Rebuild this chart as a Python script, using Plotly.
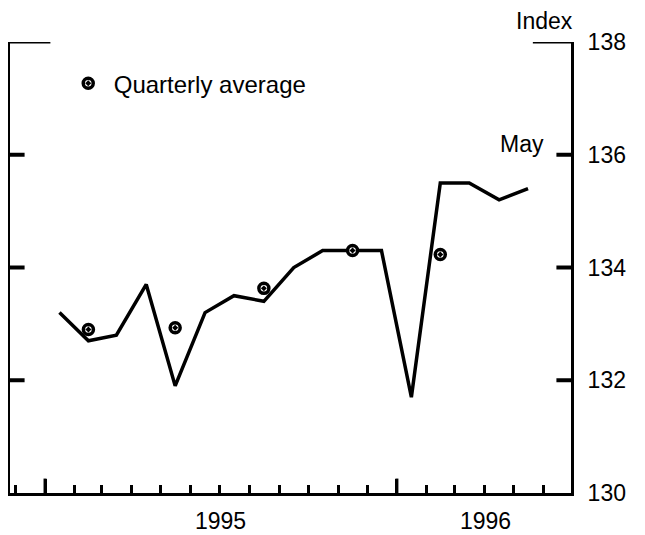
import plotly.graph_objects as go

# Monthly index values (Jan 1995 - May 1996)
months = ["1995-01-16", "1995-02-15", "1995-03-16", "1995-04-16", "1995-05-16",
          "1995-06-16", "1995-07-16", "1995-08-16", "1995-09-16", "1995-10-16",
          "1995-11-16", "1995-12-16", "1996-01-16", "1996-02-15", "1996-03-16",
          "1996-04-16", "1996-05-16"]
index_values = [133.2, 132.7, 132.8, 133.7, 131.9, 133.2, 133.5, 133.4, 134.0,
                134.3, 134.3, 134.3, 131.7, 135.5, 135.5, 135.2, 135.4]

# Quarterly averages plotted at middle month of each quarter
quarter_dates = ["1995-02-15", "1995-05-16", "1995-08-16", "1995-11-16", "1996-02-15"]
quarter_values = [132.9, 132.93, 133.63, 134.3, 134.23]

year_labels = ["1995", "1996"]
year_label_pos = ["1995-07-02", "1996-04-02"]
year_ticks = ["1995-01-01", "1996-01-01"]
y_ticks = [132, 134, 136]

x_range = ["1994-11-25 16:00", "1996-06-29 14:00"]
y_range = [130, 138]

FONT = "Liberation Sans, Arial, Helvetica, sans-serif"

fig = go.Figure()

fig.add_trace(go.Scatter(
    x=months, y=index_values, mode="lines",
    line=dict(color="black", width=3.5),
    showlegend=False, hoverinfo="skip"))

fig.add_trace(go.Scatter(
    x=quarter_dates, y=quarter_values, mode="markers",
    name="Quarterly average",
    marker=dict(symbol="circle-dot", size=10, color="white",
                line=dict(color="black", width=3.5)),
    showlegend=True))

annotations = [
    dict(text="Index", xref="paper", yref="paper", x=1.0, y=1.0,
         xanchor="center", yanchor="bottom", yshift=6, xshift=-27,
         showarrow=False, font=dict(family=FONT, size=23, color="black")),
    dict(text="May", xref="x", yref="y", x="1996-05-16", y=135.92,
         xanchor="center", yanchor="bottom", xshift=-6,
         showarrow=False, font=dict(family=FONT, size=23, color="black")),
]
for lab, pos in zip(year_labels, year_label_pos):
    annotations.append(dict(text=lab, xref="x", yref="paper", x=pos, y=0,
                            xanchor="center", yanchor="top", yshift=-13,
                            showarrow=False,
                            font=dict(family=FONT, size=23, color="black")))

# tick marks (inward) drawn as axis-anchored decorations
TICK = dict(color="black", width=4)
shapes = []
for v in y_ticks:
    shapes.append(dict(type="line", xref="paper", yref="y", x0=0, x1=0.026,
                       y0=v, y1=v, line=TICK, layer="above"))
    shapes.append(dict(type="line", xref="paper", yref="y", x0=0.974, x1=1,
                       y0=v, y1=v, line=TICK, layer="above"))
# long ticks at the top value (138)
shapes.append(dict(type="line", xref="paper", yref="y", x0=0, x1=0.072,
                   y0=y_range[1], y1=y_range[1], line=dict(color="black", width=3),
                   layer="above"))
shapes.append(dict(type="line", xref="paper", yref="y", x0=0.932, x1=1,
                   y0=y_range[1], y1=y_range[1], line=dict(color="black", width=3),
                   layer="above"))
# taller ticks at year boundaries
for d in year_ticks:
    shapes.append(dict(type="line", xref="x", yref="paper", x0=d, x1=d,
                       y0=0, y1=0.032, line=dict(color="black", width=3),
                       layer="above"))

# page body adds an 8px offset, so the figure is sized/placed to compensate
fig.update_layout(
    width=637, height=527, autosize=False,
    margin=dict(l=2, r=74, t=34, b=42, autoexpand=False),
    paper_bgcolor="white", plot_bgcolor="white",
    font=dict(family=FONT, size=23, color="black"),
    xaxis=dict(
        type="date", range=x_range, automargin=False,
        showgrid=False, zeroline=False,
        showline=True, linecolor="black", linewidth=3,
        tickmode="linear", tick0="1995-01-01", dtick="M12",
        ticks="inside", ticklen=14, tickwidth=3,
        tickcolor="black", showticklabels=False,
        minor=dict(dtick="M1", tick0="1995-01-01", ticks="inside",
                   ticklen=8, tickwidth=3, tickcolor="black", showgrid=False),
    ),
    yaxis=dict(
        range=y_range, side="right", automargin=False,
        showgrid=False, zeroline=False,
        showline=True, linecolor="black", linewidth=3, mirror=True,
        tickmode="linear", tick0=130, dtick=2,
        ticks="", ticklabelstandoff=9,
        tickfont=dict(family=FONT, size=23, color="black"),
    ),
    legend=dict(
        x=0.094, y=0.9075, xanchor="left", yanchor="middle",
        bgcolor="rgba(0,0,0,0)", borderwidth=0, itemwidth=41,
        font=dict(family=FONT, size=24, color="black"),
    ),
    shapes=shapes,
    annotations=annotations,
)

fig.write_html("out.html")
